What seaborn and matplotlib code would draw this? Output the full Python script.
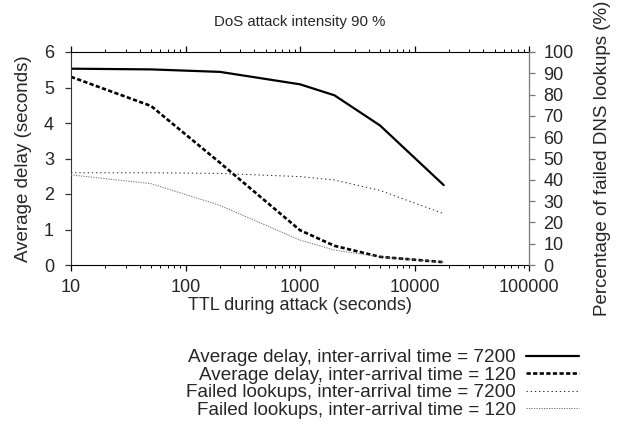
import matplotlib
matplotlib.use("Agg")
import matplotlib.pyplot as plt
from matplotlib.ticker import LogLocator, NullFormatter
import seaborn as sns
import pandas as pd
import numpy as np

# ---- data ----
ttl = [10, 50, 200, 1000, 2000, 5000, 18000]
delay_7200 = [5.53, 5.51, 5.44, 5.09, 4.78, 3.93, 2.25]
delay_120 = [5.30, 4.48, 2.88, 0.98, 0.54, 0.23, 0.08]
failed_7200 = [43.3, 43.3, 43.0, 41.5, 39.9, 35.0, 24.1]
failed_120 = [42.3, 38.2, 28.0, 11.7, 7.0, 3.8, 1.4]

labels = [
    "Average delay, inter-arrival time = 7200",
    "Average delay, inter-arrival time = 120",
    "Failed lookups, inter-arrival time = 7200",
    "Failed lookups, inter-arrival time = 120",
]
xticks = [10, 100, 1000, 10000, 100000]
xticklabels = ["10", "100", "1000", "10000", "100000"]
title = "DoS attack intensity 90 %"
xlabel = "TTL during attack (seconds)"
ylabel_left = "Average delay (seconds)"
ylabel_right = "Percentage of failed DNS lookups (%)"

sns.set_style("ticks")
plt.rcParams["font.family"] = ["Liberation Sans", "DejaVu Sans"]
FS = 13

df = pd.DataFrame({"ttl": ttl, "d7200": delay_7200, "d120": delay_120,
                   "f7200": failed_7200, "f120": failed_120})

fig = plt.figure(figsize=(6.23, 4.26), dpi=100)
ax = fig.add_axes([71 / 623, 1 - 265 / 426, 458 / 623, 213 / 426])
ax2 = ax.twinx()

sns.lineplot(data=df, x="ttl", y="d7200", ax=ax, color="black", lw=1.6,
             label=labels[0], estimator=None)
sns.lineplot(data=df, x="ttl", y="d120", ax=ax, color="black", lw=1.9,
             linestyle=(0, (1.6, 0.9)), label=labels[1], estimator=None)
sns.lineplot(data=df, x="ttl", y="f7200", ax=ax2, color="#333333", lw=0.75,
             linestyle=(0, (1.3, 2.7)), label=labels[2], estimator=None)
sns.lineplot(data=df, x="ttl", y="f120", ax=ax2, color="#777777", lw=0.75,
             linestyle=(0, (1.2, 1.2)), label=labels[3], estimator=None)

for a in (ax, ax2):
    leg = a.get_legend()
    if leg is not None:
        leg.remove()

ax.set_xscale("log")
ax.set_xlim(10, 100000)
ax.set_ylim(0, 6)
ax2.set_ylim(0, 100)
ax.set_xticks(xticks)
ax.set_xticklabels(xticklabels)
ax.xaxis.set_minor_locator(LogLocator(base=10, subs=np.arange(2, 10)))
ax.xaxis.set_minor_formatter(NullFormatter())
ax.set_yticks(range(0, 7))
ax2.set_yticks(range(0, 101, 10))

ax.tick_params(axis="x", which="major", direction="out", length=4, width=0.9,
               top=True, bottom=True, labelsize=FS, pad=6.3, color="black")
ax.tick_params(axis="x", which="minor", direction="out", length=2.2, width=0.7,
               top=True, bottom=True, color="black")
ax.tick_params(axis="y", which="major", direction="out", length=4, width=0.9,
               labelsize=FS, pad=8.2, color="#333333", left=True)
ax2.tick_params(axis="y", which="major", direction="out", length=4, width=0.9,
                labelsize=FS, pad=6.3, color="#777777", right=True)

for s in ("top", "bottom"):
    ax.spines[s].set_visible(True)
    ax.spines[s].set_color("black")
    ax.spines[s].set_linewidth(0.8)
ax.spines["right"].set_visible(False)
ax.spines["left"].set_color("#333333")
ax.spines["left"].set_linewidth(0.8)
for s in ("top", "bottom", "left"):
    ax2.spines[s].set_visible(False)
ax2.spines["right"].set_visible(True)
ax2.spines["right"].set_color("#777777")
ax2.spines["right"].set_linewidth(0.9)

ax.set_xlabel(xlabel, fontsize=FS, labelpad=0.5)
ax.set_ylabel(ylabel_left, fontsize=13.5, labelpad=8.5)
ax2.set_ylabel(ylabel_right, fontsize=13.5, labelpad=14.5)

fig.text(300 / 623, 1 - 22 / 426, title, ha="center", va="center", fontsize=10.8)

h1, l1 = ax.get_legend_handles_labels()
h2, l2 = ax2.get_legend_handles_labels()
fig.legend(h1 + h2, l1 + l2, loc="center right",
           bbox_to_anchor=(579 / 623, 1 - 384 / 426), frameon=False,
           markerfirst=False, fontsize=13.6, borderpad=0, borderaxespad=0,
           handlelength=2.8, handletextpad=0.55, labelspacing=0.02)

fig.savefig("out.png", dpi=100)
